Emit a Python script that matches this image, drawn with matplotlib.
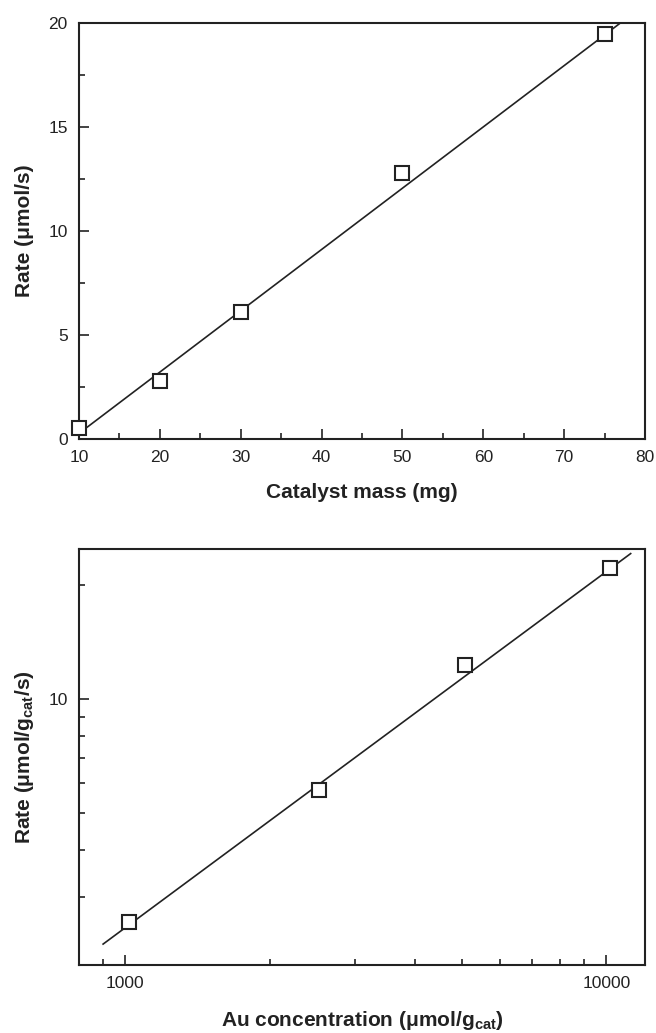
import numpy as np
import matplotlib
matplotlib.use("Agg")
import matplotlib.pyplot as plt
from matplotlib.ticker import MultipleLocator, FixedLocator, NullFormatter, FixedFormatter

plt.rcParams['font.family'] = ['Liberation Sans', 'DejaVu Sans']
plt.rcParams['mathtext.fontset'] = 'custom'
plt.rcParams['mathtext.rm'] = 'Liberation Sans:bold'
plt.rcParams['mathtext.it'] = 'Liberation Sans:bold'
plt.rcParams['mathtext.bf'] = 'Liberation Sans:bold'

# ---- data: top panel ----
mass_mg = [10, 20, 30, 50, 75]
rate_umol_s = [0.55, 2.79, 6.09, 12.8, 19.46]
fit1_x = [10, 77]
fit1_y = [0.27, 20.0]

# ---- data: bottom panel ----
au_conc = [1016, 2532, 5088, 10173]
rate_per_g = [2.59, 5.77, 12.3, 22.2]
fit2_x = [899, 11234]
fit2_y = [2.26, 24.27]

C = '#222222'
LBL = 15

fig = plt.figure(figsize=(6.56, 10.33), dpi=100)
ax1 = fig.add_axes([0.1204, 0.575, 0.8628, 0.4030])
ax2 = fig.add_axes([0.1204, 0.0658, 0.8628, 0.4024])

for ax in (ax1, ax2):
    for s in ax.spines.values():
        s.set_linewidth(1.5)
        s.set_color(C)
    ax.tick_params(which='both', direction='in', top=False, right=False,
                   color=C, labelsize=12.5, labelcolor=C, pad=8)
    ax.tick_params(which='major', length=7, width=1.2)
    ax.tick_params(which='minor', length=4, width=1.2)

# top panel
ax1.plot(fit1_x, fit1_y, '-', color=C, lw=1.2, zorder=2)
ax1.plot(mass_mg, rate_umol_s, 's', ms=10, mfc='white', mec=C, mew=1.5,
         clip_on=False, zorder=3)
ax1.set_xlim(10, 80)
ax1.set_ylim(0, 20)
ax1.xaxis.set_major_locator(MultipleLocator(10))
ax1.xaxis.set_minor_locator(MultipleLocator(5))
ax1.yaxis.set_major_locator(MultipleLocator(5))
ax1.yaxis.set_minor_locator(MultipleLocator(2.5))
ax1.set_xlabel('Catalyst mass (mg)', fontsize=LBL, fontweight='bold', color=C, labelpad=13)
ax1.set_ylabel('Rate (\u03bcmol/s)', fontsize=LBL, fontweight='bold', color=C, labelpad=10)

# bottom panel
ax2.set_xscale('log')
ax2.set_yscale('log')
ax2.plot(fit2_x, fit2_y, '-', color=C, lw=1.2, zorder=2)
ax2.plot(au_conc, rate_per_g, 's', ms=10, mfc='white', mec=C, mew=1.5, zorder=3)
ax2.set_xlim(801, 12030)
ax2.set_ylim(1.99, 24.9)
ax2.xaxis.set_major_locator(FixedLocator([1000, 10000]))
ax2.xaxis.set_major_formatter(FixedFormatter(['1000', '10000']))
ax2.xaxis.set_minor_locator(FixedLocator([900, 2000, 3000, 4000, 5000, 6000, 7000, 8000, 9000]))
ax2.xaxis.set_minor_formatter(NullFormatter())
ax2.yaxis.set_major_locator(FixedLocator([10]))
ax2.yaxis.set_major_formatter(FixedFormatter(['10']))
ax2.yaxis.set_minor_locator(FixedLocator([3, 4, 5, 6, 7, 8, 9, 20]))
ax2.yaxis.set_minor_formatter(NullFormatter())
ax2.set_xlabel('Au concentration (\u03bcmol/g$_{\\mathrm{cat}}$)', fontsize=LBL,
               fontweight='bold', color=C, labelpad=13)
ax2.set_ylabel('Rate (\u03bcmol/g$_{\\mathrm{cat}}$/s)', fontsize=LBL,
               fontweight='bold', color=C, labelpad=9)

fig.savefig('out.png', dpi=100, facecolor='white')
